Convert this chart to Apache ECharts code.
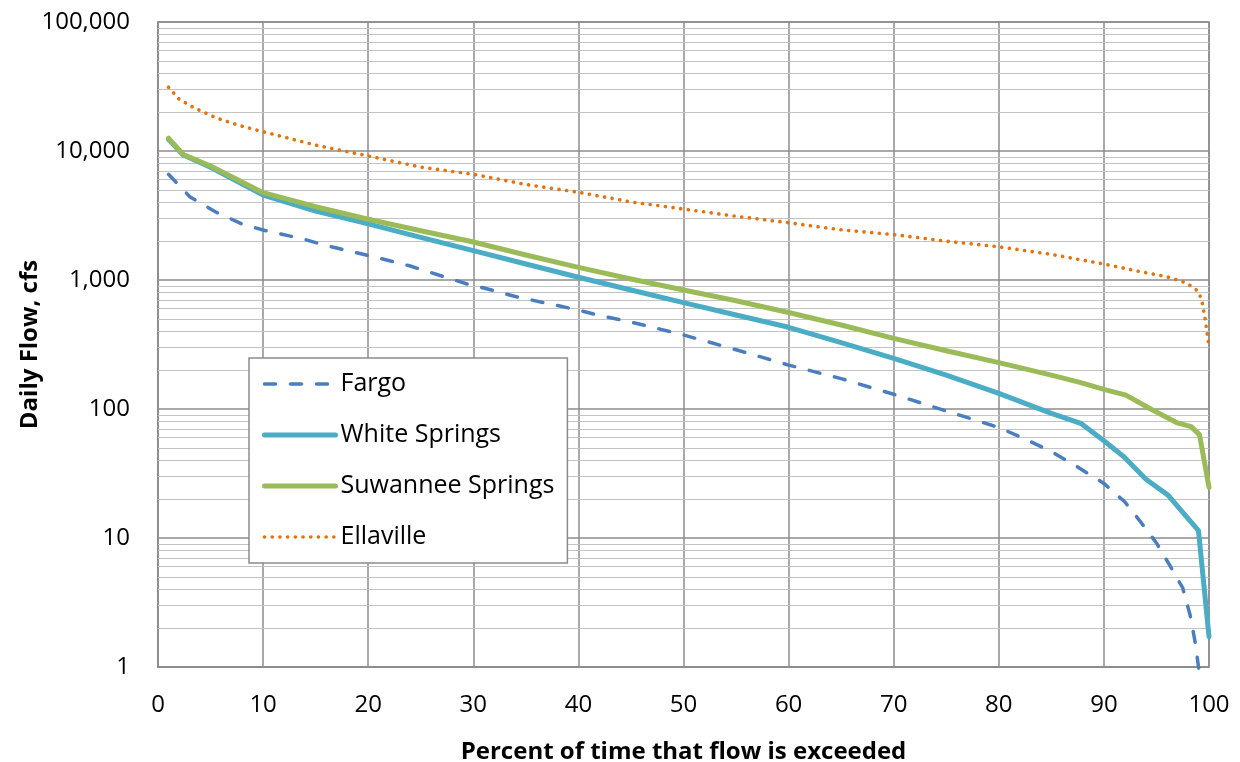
<!DOCTYPE html>
<html>
<head>
<meta charset="utf-8">
<script src="https://cdn.jsdelivr.net/npm/echarts@6/dist/echarts.min.js"></script>
<style>
  html, body { margin: 0; padding: 0; background: #ffffff; }
  #chart { width: 1240px; height: 762px; }
</style>
</head>
<body>
<div id="chart"></div>
<script>
// Flow-duration curves, daily flow (cfs) vs. percent of time exceeded
const fargoPct = [1, 3.05, 5.5, 8, 10, 13.8, 16, 19, 21, 24, 27, 29.5, 31, 34, 37, 40, 42, 45, 47.5, 50, 52.5, 55, 57.6, 60, 65, 70, 75, 80, 82.5, 85, 87.5, 90, 92, 93.5, 95, 96.3, 97.5, 98.2, 98.7, 99, 99.2];
const fargoFlow = [6600, 4400, 3365, 2717, 2440, 2080, 1850, 1620, 1482, 1284, 1074, 926, 867, 745, 660, 585, 531, 472, 421, 375, 329, 288, 250, 219, 172, 130, 96.5, 71.9, 58.5, 46.8, 35.5, 26.5, 19, 13.3, 9.15, 6.07, 4.1, 2.53, 1.53, 1.0, 0.82];

const whitePct = [1, 2.4, 5, 10, 15, 20, 25, 30, 35, 40, 45, 50, 55, 60, 65, 70, 75, 80, 85, 87.8, 90, 91.9, 94, 96.1, 97.3, 99, 100];
const whiteFlow = [12300, 9300, 7480, 4560, 3425, 2720, 2140, 1690, 1330, 1050, 836, 667, 535, 430, 327, 247, 183, 132, 92.6, 77.5, 56.8, 42.7, 28.5, 21.5, 16.5, 11.4, 1.72];

const suwanneePct = [1, 2.4, 5, 10, 15, 20, 25, 30, 35, 40, 45, 50, 55, 60, 65, 70, 75, 80, 85, 87.8, 90, 92.1, 94.5, 97, 98.3, 99.1, 100];
const suwanneeFlow = [12600, 9400, 7650, 4750, 3700, 2955, 2410, 1970, 1563, 1254, 1018, 836, 691, 560, 448, 353, 283, 229, 183, 160, 142, 128, 99.5, 78, 73, 63, 24.7];

const ellaPct = [1, 2, 3.4, 5.5, 7.6, 10, 15, 20, 25, 30, 35, 40, 45, 50, 55, 60, 65, 70, 75, 80, 85, 90, 93, 96, 97.5, 98.5, 99, 99.3, 99.6, 100];
const ellaFlow = [31200, 25300, 21700, 18100, 15900, 14100, 11100, 9150, 7500, 6600, 5500, 4790, 4030, 3550, 3120, 2780, 2450, 2250, 2000, 1810, 1580, 1330, 1180, 1060, 970, 880, 810, 700, 520, 305];

const seriesNames = ['Fargo', 'White Springs', 'Suwannee Springs', 'Ellaville'];
const xTickStep = 10;

const FONT = '"Open Sans", Lato, sans-serif';
const MAJOR_GRID = '#8c8c8c';
const MINOR_GRID = '#c3c3c3';

const zip = (xs, ys) => xs.map((x, i) => [x, ys[i]]);

// Log-scale minor grid values: 2..9 within each decade from 1 to 100,000
const minorGrid = [];
for (let d = 1; d < 100000; d *= 10) {
  for (let m = 2; m <= 9; m++) minorGrid.push(m * d);
}

const chart = echarts.init(document.getElementById('chart'), null, { renderer: 'canvas' });

chart.setOption({
  animation: false,
  backgroundColor: '#ffffff',
  textStyle: { fontFamily: FONT },
  grid: {
    left: 158, right: 31, top: 22, bottom: 95,
    outerBoundsMode: 'none',
    containLabel: false,
    show: true, borderColor: MAJOR_GRID, borderWidth: 1.5, backgroundColor: 'transparent'
  },
  legend: {
    data: seriesNames,
    orient: 'vertical',
    left: 249, top: 358,
    z: 20,
    padding: [12, 13, 12, 13],
    itemGap: 23,
    itemWidth: 71,
    itemHeight: 14,
    backgroundColor: '#ffffff',
    borderColor: MAJOR_GRID,
    borderWidth: 1.5,
    borderRadius: 0,
    itemStyle: { opacity: 0 },
    lineStyle: { width: 'inherit' },
    textStyle: { fontFamily: FONT, fontSize: 25, color: '#000000', lineHeight: 28 }
  },
  xAxis: {
    type: 'value',
    min: 0, max: 100, interval: xTickStep,
    name: 'Percent of time that flow is exceeded',
    nameLocation: 'middle',
    nameGap: 73,
    nameMoveOverlap: false,
    nameTextStyle: { fontFamily: FONT, fontSize: 24, fontWeight: 'bold', color: '#000000' },
    axisLine: { show: true, lineStyle: { color: MAJOR_GRID, width: 1.5 } },
    axisTick: { show: false },
    axisLabel: { fontFamily: FONT, fontSize: 24, color: '#000000', margin: 26 },
    splitLine: { show: true, lineStyle: { color: MAJOR_GRID, width: 1.5 } }
  },
  yAxis: {
    type: 'log',
    logBase: 10,
    min: 1, max: 100000,
    name: 'Daily Flow, cfs',
    nameLocation: 'middle',
    nameRotate: 90,
    nameGap: 116,
    nameMoveOverlap: false,
    nameTextStyle: { fontFamily: FONT, fontSize: 24, fontWeight: 'bold', color: '#000000' },
    axisLine: { show: true, lineStyle: { color: MAJOR_GRID, width: 1.5 } },
    axisTick: { show: false },
    axisLabel: {
      fontFamily: FONT, fontSize: 24, color: '#000000', margin: 28,
      formatter: v => Number(v).toLocaleString('en-US')
    },
    splitLine: { show: true, lineStyle: { color: MAJOR_GRID, width: 1.5 } }
  },
  series: [
    {
      // minor log grid lines
      name: 'minor-grid',
      type: 'line',
      data: [[0, 1]],
      showSymbol: false,
      symbol: 'none',
      lineStyle: { opacity: 0 },
      silent: true,
      z: 1,
      markLine: {
        silent: true,
        z: 1,
        symbol: 'none',
        label: { show: false },
        lineStyle: { color: MINOR_GRID, width: 1.2, type: 'solid' },
        emphasis: { disabled: true },
        data: minorGrid.map(v => ({ yAxis: v }))
      }
    },
    {
      name: 'Fargo',
      type: 'line',
      data: zip(fargoPct, fargoFlow),
      symbol: 'none',
      clip: false,
      z: 3,
      lineStyle: { color: '#4a7ebf', width: 3.5, type: [11, 15], cap: 'round' },
      itemStyle: { color: '#4a7ebf' }
    },
    {
      name: 'White Springs',
      type: 'line',
      data: zip(whitePct, whiteFlow),
      symbol: 'none',
      z: 4,
      lineStyle: { color: '#4bacc6', width: 5, cap: 'round', join: 'round' },
      itemStyle: { color: '#4bacc6' }
    },
    {
      name: 'Suwannee Springs',
      type: 'line',
      data: zip(suwanneePct, suwanneeFlow),
      symbol: 'none',
      z: 5,
      lineStyle: { color: '#9bbb59', width: 5, cap: 'round', join: 'round' },
      itemStyle: { color: '#9bbb59' }
    },
    {
      name: 'Ellaville',
      type: 'line',
      data: zip(ellaPct, ellaFlow),
      symbol: 'none',
      z: 6,
      lineStyle: { color: '#e8710a', width: 3.6, type: [0.1, 7.6], cap: 'round' },
      itemStyle: { color: '#e8710a' }
    }
  ]
});
</script>
</body>
</html>
